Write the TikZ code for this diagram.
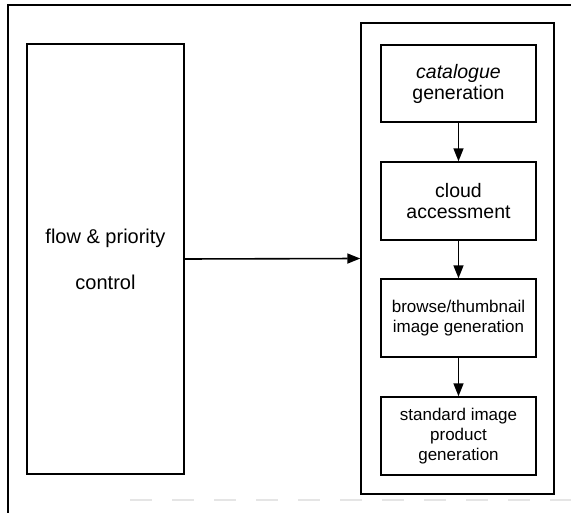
\documentclass[tikz,border=0pt]{standalone}
\usepackage{fontspec}
\setmainfont{Liberation Sans}
\usetikzlibrary{arrows.meta}
\tikzset{
  box/.style={draw, line width=1.4pt, minimum width=155pt, minimum height=78pt,
    align=center, inner sep=0pt},
  bigfont/.style={font=\fontsize{19.5}{21}\selectfont},
  smallfont/.style={font=\fontsize{17}{20}\selectfont},
  flow/.style={line width=1.6pt, -{Triangle[length=13pt,width=10pt]}},
  frame/.style={line width=1.3pt}
}
\begin{document}
\begin{tikzpicture}[x=1pt,y=-1pt]
  \useasboundingbox (0,0) rectangle (571,513);
  % page frame
  \draw[frame] (8,513) -- (8,5) -- (571,5);
  \draw[gray!20, line width=1.2pt, dash pattern=on 22pt off 20pt] (130,500) -- (571,500);

  % control block
  \node[box, minimum width=157pt, minimum height=430pt, font=\fontsize{20}{24}\selectfont]
    (ctrl) at (105.5,259) {flow \& priority\\[22pt]control};

  % processing chain
  \node[draw, line width=1.4pt, minimum width=193pt, minimum height=471pt, inner sep=0pt]
    (chain) at (457.5,258.5) {};
  \node[box, bigfont, minimum height=77pt] (cat) at (458.5,83.5) {\textit{catalogue}\\generation};
  \node[box, bigfont] (cloud) at (458.5,201) {cloud\\accessment};
  \node[box, smallfont] (browse) at (458.5,318) {browse/thumbnail\\image generation};
  \node[box, smallfont] (std) at (458.5,436) {standard image\\product\\generation};

  \draw[flow] (ctrl.east) -- (chain.west);
  \draw[flow] (cat) -- (cloud);
  \draw[flow] (cloud) -- (browse);
  \draw[flow] (browse) -- (std);
\end{tikzpicture}
\end{document}
